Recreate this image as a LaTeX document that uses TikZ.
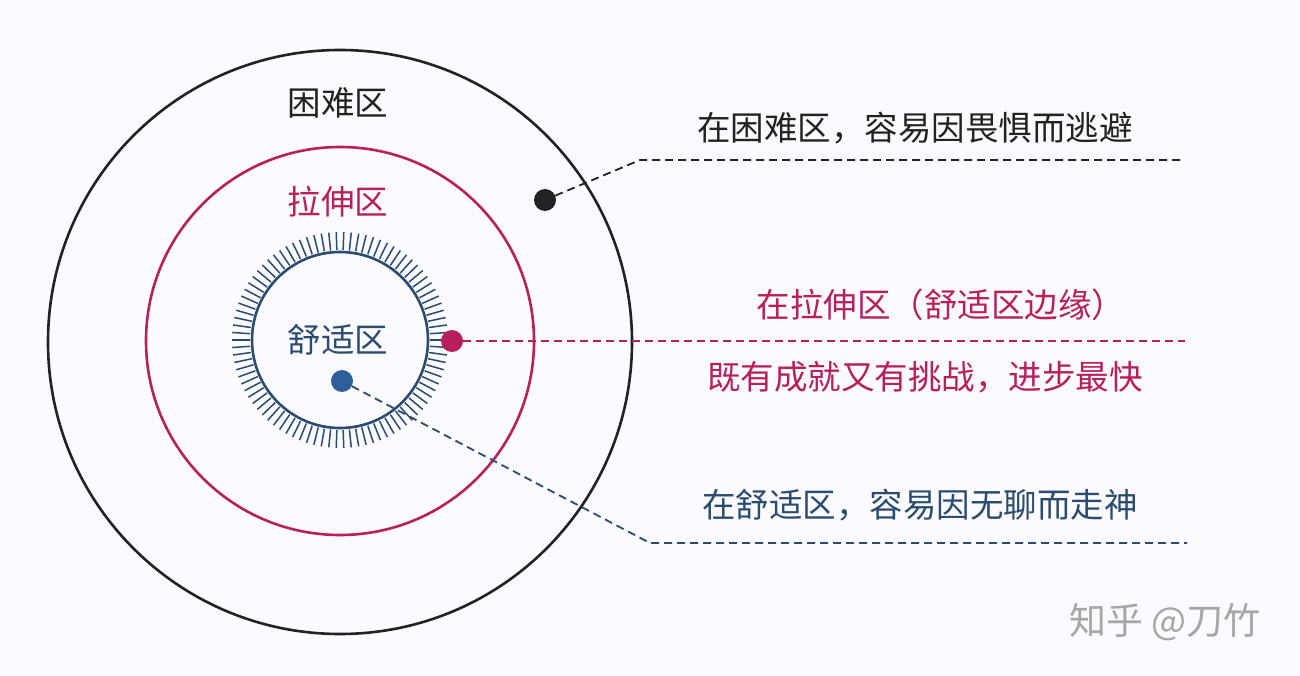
\documentclass[tikz,border=0pt]{standalone}
\usepackage{fontspec}
\newfontfamily\cjk{Noto Sans CJK SC}
\definecolor{mag}{HTML}{B8205C}
\definecolor{dblue}{HTML}{2B4C6E}
\definecolor{dotblue}{HTML}{2F5E9C}
\definecolor{txt}{HTML}{222222}
\begin{document}
\begin{tikzpicture}[x=1pt,y=-1pt,
  lbl/.style={font=\cjk\fontsize{33.5}{38}\selectfont},
  dsh/.style={dash pattern=on 8pt off 5pt, line width=1.8pt}]
\fill[white!98!blue] (0,0) rectangle (1300,676);
\useasboundingbox (0,0) rectangle (1300,676);
\draw[txt, line width=2.6pt] (340,342) circle (292);
\draw[mag, line width=2.6pt] (340,341) circle (194);
\draw[dblue, line width=2.6pt] (340,340) circle (88);
\foreach \a in {0,4,...,356}
  \draw[dblue, line width=1.5pt, shift={(340,340)}] (\a:90) -- (\a:108);
\node[lbl, txt] (t1) at (338,103) {困难区};
\node[lbl, mag] (t2) at (338,202) {拉伸区};
\node[lbl, dblue] (t3) at (338,340) {舒适区};
\node[circle, fill=txt, inner sep=0, minimum size=22] (d1) at (545,200) {};
\node[circle, fill=mag, inner sep=0, minimum size=22] (d2) at (452,341) {};
\node[circle, fill=dotblue, inner sep=0, minimum size=22] (d3) at (342,381) {};
\coordinate (c1a) at (640,160); \coordinate (c1b) at (1185,160);
\coordinate (c2b) at (1185,341);
\coordinate (c3a) at (650,543); \coordinate (c3b) at (1187,543);
\draw[dsh, txt] (d1) -- (c1a) -- (c1b);
\draw[dsh, mag] (d2) -- (c2b);
\draw[dsh, dblue] (d3) -- (c3a) -- (c3b);
\node[lbl, txt] (r1) at (915,128) {在困难区，容易因畏惧而逃避};
\node[lbl, mag] (r2) at (941,305) {在拉伸区（舒适区边缘）};
\node[lbl, mag] (r3) at (925,377) {既有成就又有挑战，进步最快};
\node[lbl, dblue] (r4) at (920,505) {在舒适区，容易因无聊而走神};
\node[font=\cjk\fontsize{37}{42}\selectfont, gray!70] (wm) at (1165,622) {知乎 @刀竹};
\end{tikzpicture}
\end{document}
